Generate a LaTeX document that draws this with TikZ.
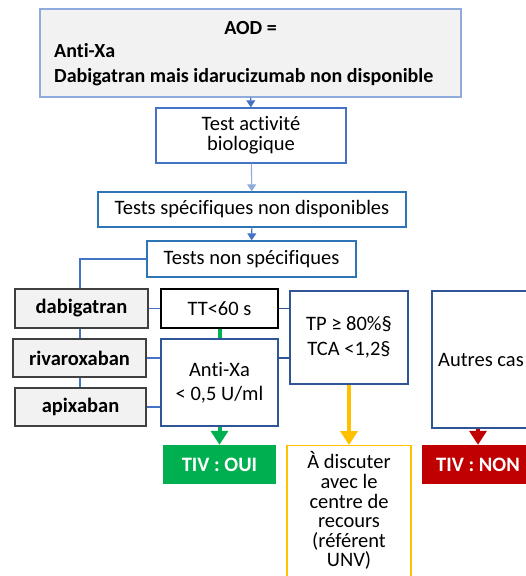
\documentclass[tikz,border=0pt]{standalone}
\usepackage{fontspec}
\setmainfont{Carlito}[Ligatures=NoCommon]
\usetikzlibrary{arrows.meta,positioning}

\definecolor{boxblue}{HTML}{4472C4}
\definecolor{lightblue}{HTML}{8FAADC}
\definecolor{darkblue}{HTML}{2F5597}
\definecolor{brightblue}{HTML}{2E75B6}
\definecolor{boxgray}{HTML}{F2F2F2}
\definecolor{edgegray}{HTML}{404040}
\definecolor{okgreen}{HTML}{00B050}
\definecolor{warnyellow}{HTML}{FFC000}
\definecolor{nored}{HTML}{C00000}

\tikzset{
  box/.style={draw=#1, line width=1.4pt, fill=white, align=center,
    inner sep=0pt},
  box/.default=boxblue,
  drug/.style={draw=edgegray, line width=1.8pt, fill=boxgray,
    font=\fontsize{20.5}{22}\selectfont\bfseries, inner sep=0pt},
  verdict/.style={fill=#1, text=white, font=\fontsize{20.5}{22}\selectfont\bfseries,
    inner sep=0pt},
  link/.style={draw=boxblue, line width=1.1pt},
  flow/.style={link, -{Triangle[width=9pt,length=7pt]}},
  bigflow/.style={draw=#1, line width=4pt, -{Triangle[width=17pt,length=14pt]}}
}

\begin{document}
\begin{tikzpicture}[x=1pt,y=-1pt,font=\fontsize{20.5}{20}\selectfont]
        \clip (0,0) rectangle (526,576);
        \useasboundingbox (0,0) rectangle (526,576);

        % top of the tree
        \node (aod) [box=lightblue, fill=boxgray, minimum width=421, minimum height=88] at (250.5,53) {};
        \node (aodtitle) [font=\fontsize{20}{20}\selectfont\bfseries] at (250.5,28) {AOD =};
        \node (aodtext) [anchor=west, align=left, inner sep=0pt,
          font=\fontsize{20}{25}\selectfont\bfseries] at (54,65) {Anti-Xa\\Dabigatran mais idarucizumab non disponible};
        \node (test) [box, minimum width=190, minimum height=55] at (251,135.5) {Test activité\\biologique};
        \node (spec) [box=brightblue, minimum width=308, minimum height=35] at (252,209.5) {Tests spécifiques non disponibles};
        \node (nonspec) [box=brightblue, minimum width=209, minimum height=36] at (251.5,259) {Tests non spécifiques};

        % drugs
        \node (dabi) [drug, minimum width=133, minimum height=39] at (81.5,308.5) {dabigatran};
        \node (riva) [drug, minimum width=133, minimum height=38] at (79.5,358) {rivaroxaban};
        \node (apix) [drug, minimum width=131, minimum height=38] at (80.5,407) {apixaban};

        % tests
        \node (tt) [box=black, minimum width=117, minimum height=39] at (219.5,308.5) {TT<60 s};
        \node (antixa) [box=darkblue, minimum width=117, minimum height=87] at (219.5,382.5) {Anti-Xa\\[4pt]< 0,5 U/ml};
        \node (tp) [box=darkblue, minimum width=118, minimum height=93] at (349,337.5) {TP ≥ 80\%§\\[5pt]TCA <1,2§};
        \node (autres) [box=darkblue, minimum width=98, minimum height=137] at (481,359.5) {Autres cas};

        % outcomes
        \node (oui) [verdict=okgreen, minimum width=113, minimum height=39] at (219.5,464.5) {TIV : OUI};
        \node (non) [verdict=nored, minimum width=112, minimum height=39] at (478,464.5) {TIV : NON};
        \node (discuss) [box=warnyellow, anchor=north, minimum width=124,
          inner ysep=6pt, font=\fontsize{20.5}{19.6}\selectfont] at (349,445)
          {À discuter\\avec le\\centre de\\recours\\(référent\\UNV)\\[12pt]\mbox{}};

        % connectors
        \draw[flow] (aod) -- (test);
        \draw[flow, draw=lightblue] (test) -- (spec);
        \draw[flow] (spec) -- (nonspec);
        \draw[link] (nonspec.west) -| (dabi.north -| 80,0);
        \draw[link] (dabi.south -| 80,0) -- (riva.north -| 80,0)
          (riva.south -| 80,0) -- (apix.north -| 80,0);
        \draw[link] (dabi) -- (tt) (riva.east) -- (riva.east -| antixa.west)
          (apix.east) -- (apix.east -| antixa.west);
        \draw[link, draw=darkblue] (tt.east) -- (tt.east -| tp.west)
          (antixa.east |- riva) -- (tp.west |- riva);
        \draw[okgreen, line width=4pt] (tt) -- (antixa);
        \draw[bigflow=okgreen] (antixa) -- (oui);
        \draw[bigflow=warnyellow] (tp) -- (discuss);
        \draw[bigflow=nored] (autres.south -| non) -- (non);
      \end{tikzpicture}
\end{document}
